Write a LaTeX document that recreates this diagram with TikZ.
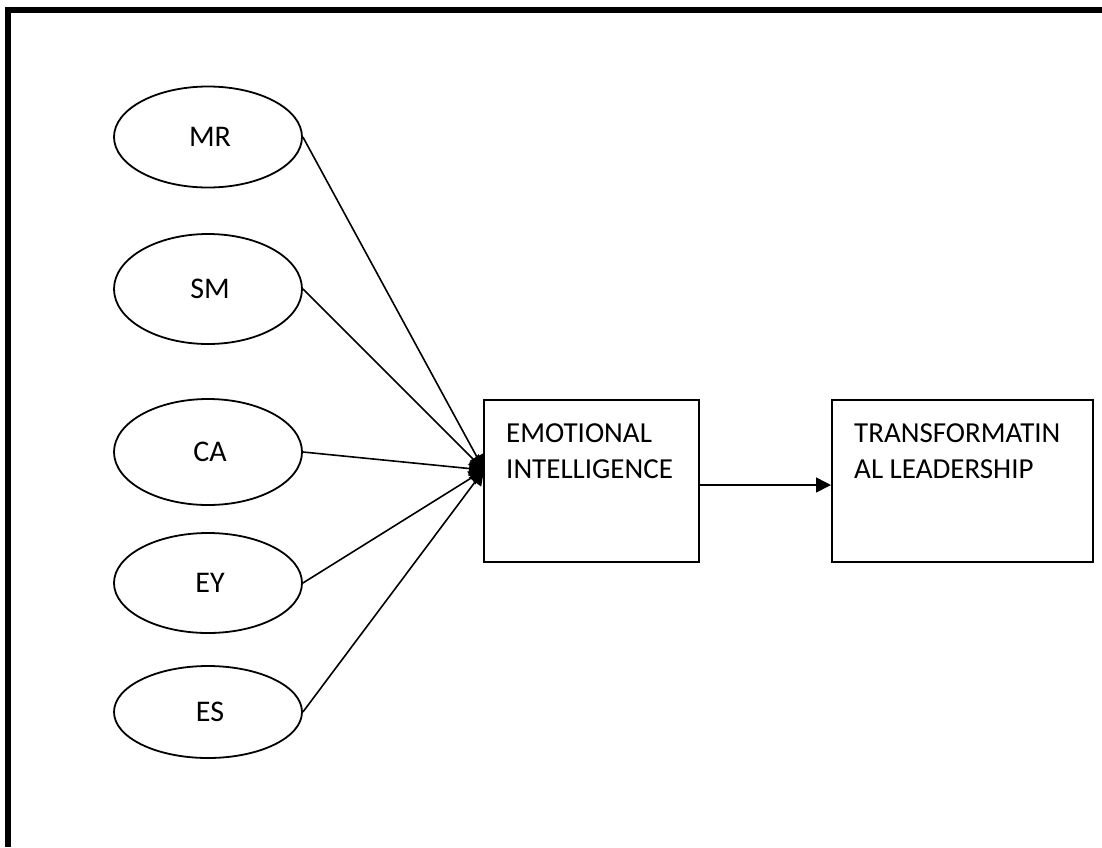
\documentclass[tikz,border=0pt]{standalone}
\usepackage{fontspec}
\setmainfont{Carlito}
\usetikzlibrary{shapes.geometric,arrows.meta}
\begin{document}
\begin{tikzpicture}[x=1pt,y=-1pt,
  lab/.style={font=\fontsize{29}{36}\selectfont},
  oval/.style={ellipse,draw,line width=1.8pt,minimum width=188pt,inner sep=0pt,font=\fontsize{30}{36}\selectfont},
  frame/.style={rectangle,draw,line width=2pt,minimum width=215pt,minimum height=162pt,inner sep=0pt},
  txt/.style={lab,anchor=base west,inner sep=0pt},
  conn/.style={line width=1.6pt,-{Triangle[length=15pt,width=15pt]}}]
\useasboundingbox (0,0) rectangle (1102,847);
% outer frame (top and left)
\draw[line width=6pt] (8,847) -- (8,10) -- (1102,10);
% ellipses
\node[oval,minimum height=101pt] (mr) at (208,137) {\hspace*{4pt}MR};
\node[oval,minimum height=110pt] (sm) at (208,289) {\hspace*{4pt}SM};
\node[oval,minimum height=106pt] (ca) at (208,452) {\hspace*{4pt}CA};
\node[oval,minimum height=100pt] (ey) at (208,583) {\hspace*{4pt}EY};
\node[oval,minimum height=92pt] (es) at (208,712) {\hspace*{4pt}ES};
% boxes
\node[frame] (ei) at (591.5,481) {};
\node[frame,minimum width=261pt] (tl) at (962.5,481) {};
\node[txt] (ei1) at (506,442) {EMOTIONAL};
\node[txt] (ei2) at (506,478) {INTELLIGENCE};
\node[txt] (tl1) at (854,442) {TRANSFORMATIN};
\node[txt] (tl2) at (854,478) {AL LEADERSHIP};
% convergence point on the left side of EI
\coordinate (in) at (484,470);
\draw[conn] (mr.east) -- (in);
\draw[conn] (sm.east) -- (in);
\draw[conn] (ca.east) -- (in);
\draw[conn] (ey.east) -- (in);
\draw[conn] (es.east) -- (in);
\draw[conn] (ei.east |- 0,485) -- (tl.west |- 0,485);
\end{tikzpicture}
\end{document}
